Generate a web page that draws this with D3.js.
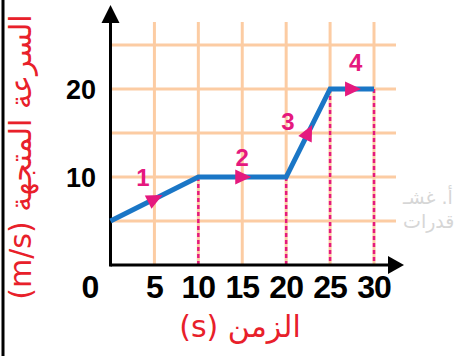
<!DOCTYPE html>
<html>
<head>
<meta charset="utf-8">
<script src="https://cdn.jsdelivr.net/npm/d3@7"></script>
<style>
  body { margin: 0; background: #fff; }
  svg { display: block; }
</style>
</head>
<body>
<div id="chart"></div>
<script>
// data
var time = [0, 10, 20, 25, 30];
var speed = [5, 10, 10, 20, 20];
var xTicks = [0, 5, 10, 15, 20, 25, 30];
var yTicks = [10, 20];
var gridX = [5, 10, 15, 20, 25, 30];
var gridY = [5, 10, 15, 20, 25];
var dropTimes = [10, 20, 25, 30];
var stageNames = ["1", "2", "3", "4"];
var stageLabelX = [3.7, 15.0, 20.2, 27.9];
var stageLabelY = [9.9, 12.2, 16.3, 23.0];
var yTitle = "السرعة المتجهة (m/s)";
var xTitle = "الزمن (s)";
var mark = ["أ. غشـ", "قدرات"];

var width = 464, height = 356;
var svg = d3.select("#chart").append("svg").attr("width", width).attr("height", height);

var x = d3.scaleLinear().domain([0, 30]).range([110.5, 374]);
var y = d3.scaleLinear().domain([0, 25]).range([265, 45]);

var pts = time.map(function(t, i) { return {t: t, v: speed[i]}; });

// left border
svg.append("line").attr("x1", 3).attr("x2", 3).attr("y1", 0).attr("y2", height)
  .attr("stroke", "#000").attr("stroke-width", 3);

// grid
var grid = svg.append("g").attr("stroke", "#fccca3").attr("stroke-width", 3);
grid.selectAll(".gx").data(gridX).enter().append("line")
  .attr("x1", d => x(d)).attr("x2", d => x(d)).attr("y1", 22).attr("y2", y(0));
grid.selectAll(".gy").data(gridY).enter().append("line")
  .attr("x1", x(0)).attr("x2", 396).attr("y1", d => y(d)).attr("y2", d => y(d));

// dashed drop lines
svg.selectAll(".drop").data(dropTimes).enter().append("line")
  .attr("x1", d => x(d)).attr("x2", d => x(d))
  .attr("y1", d => y(speed[time.indexOf(d)])).attr("y2", y(0))
  .attr("stroke", "#e5197e").attr("stroke-width", 2.5).attr("stroke-dasharray", "4,3");

// axes
svg.append("line").attr("x1", x(0)).attr("x2", 392).attr("y1", y(0)).attr("y2", y(0))
  .attr("stroke", "#000").attr("stroke-width", 3);
svg.append("path").attr("d", "M404,265 L388,256 L388,274 Z").attr("fill", "#000");
svg.append("line").attr("x1", x(0)).attr("x2", x(0)).attr("y1", y(0) + 1.5).attr("y2", 18)
  .attr("stroke", "#000").attr("stroke-width", 3);
svg.append("path").attr("d", "M" + x(0) + ",5 L" + (x(0) - 9) + ",23 L" + (x(0) + 9) + ",23 Z").attr("fill", "#000");

// speed line
var line = d3.line().x(d => x(d.t)).y(d => y(d.v));
svg.append("path").datum(pts).attr("d", line)
  .attr("fill", "none").attr("stroke", "#1a76c6").attr("stroke-width", 5)
  .attr("stroke-linejoin", "miter");

// direction arrows at segment midpoints
var segs = d3.pairs(pts);
svg.selectAll(".arr").data(segs).enter().append("path")
  .attr("d", "M9,0 L-7,-7.5 L-7,7.5 Z")
  .attr("fill", "#e5197e")
  .attr("transform", function(s) {
    var x0 = x(s[0].t), y0 = y(s[0].v), x1 = x(s[1].t), y1 = y(s[1].v);
    var a = Math.atan2(y1 - y0, x1 - x0) * 180 / Math.PI;
    return "translate(" + (x0 + x1) / 2 + "," + (y0 + y1) / 2 + ") rotate(" + a + ")";
  });

// stage numbers
svg.selectAll(".stage").data(stageNames).enter().append("text")
  .attr("x", (d, i) => x(stageLabelX[i])).attr("y", (d, i) => y(stageLabelY[i]))
  .attr("text-anchor", "middle").attr("dominant-baseline", "central")
  .attr("fill", "#e5197e").attr("font-family", "Liberation Sans, Arial, sans-serif")
  .attr("font-weight", "bold").attr("font-size", 24).text(d => d);

// tick labels
var tickFont = "Liberation Sans, Arial, sans-serif";
svg.selectAll(".xt").data(xTicks).enter().append("text")
  .attr("x", d => d === 0 ? 90 : x(d)).attr("y", 298)
  .attr("text-anchor", "middle").attr("font-family", tickFont).attr("font-weight", "bold")
  .attr("font-size", 32).attr("letter-spacing", -1).attr("fill", "#000").text(d => d);
svg.selectAll(".yt").data(yTicks).enter().append("text")
  .attr("x", 96).attr("y", d => y(d) + 10)
  .attr("text-anchor", "end").attr("font-family", tickFont).attr("font-weight", "bold")
  .attr("font-size", 27).attr("fill", "#000").text(d => d);

// axis titles (right-to-left)
svg.append("text").attr("transform", "translate(31,157) rotate(-90)")
  .attr("direction", "rtl").attr("text-anchor", "middle")
  .attr("font-family", "DejaVu Sans, sans-serif")
  .attr("font-size", 30).attr("fill", "#e8202a").text(yTitle);
svg.append("text").attr("x", 240).attr("y", 337)
  .attr("direction", "rtl").attr("text-anchor", "middle")
  .attr("font-family", "DejaVu Sans, sans-serif")
  .attr("font-size", 30).attr("fill", "#e8202a").text(xTitle);

// watermark
svg.selectAll(".wm").data(mark).enter().append("text")
  .attr("x", 403).attr("y", (d, i) => 204 + i * 24)
  .attr("font-family", "DejaVu Sans, sans-serif").attr("font-size", 19)
  .attr("fill", "#d6d6d6").text(d => d);
</script>
</body>
</html>
